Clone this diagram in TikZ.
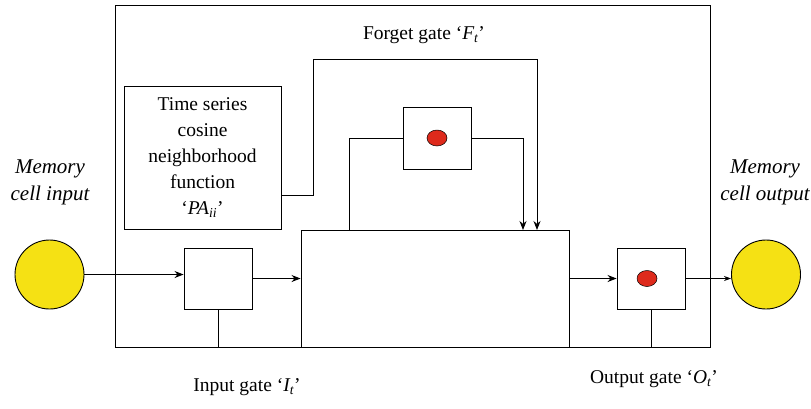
\documentclass[tikz,border=0pt]{standalone}
\usepackage{fontspec}
\setmainfont{Liberation Serif}
\usetikzlibrary{arrows.meta, shapes.geometric, positioning}

\definecolor{cellyellow}{RGB}{245,225,20}
\definecolor{dotred}{RGB}{222,42,28}

\begin{document}
\begin{tikzpicture}[
						x=1pt, y=-1pt,
						font=\fontsize{19.5}{26}\selectfont,
						>={Stealth[length=9pt, width=7pt]},
						line width=0.9pt,
						cell/.style = {draw, circle, fill=cellyellow, minimum size=69pt, inner sep=0pt},
						gate/.style = {draw, rectangle, minimum width=68pt, minimum height=61pt, inner sep=0pt},
						dot/.style = {draw, ellipse, fill=dotred, line width=0.5pt, minimum width=20pt, minimum height=16pt, inner sep=0pt},
						tag/.style = {align=center, inner sep=0pt},
						celltag/.style = {tag, font=\fontsize{21}{27}\selectfont\itshape}
					]
\useasboundingbox (0,0) rectangle (811,408);

% frame and blocks
\node[draw, minimum width=595pt, minimum height=342pt, inner sep=0pt] (frame) at (412.5,176) {};
\node[draw, minimum width=157pt, minimum height=143pt, inner sep=0pt, align=center] (pa) at (202.5,157.5) {Time series\\cosine\\neighborhood\\function\\`\textit{PA\textsubscript{ii}}'};
\node[draw, minimum width=268pt, minimum height=117pt, inner sep=0pt] (core) at (435,288.5) {};
\node[gate] (ig) at (218,278.5) {};
\node[gate, minimum height=62pt] (fg) at (437,138) {};
\node[gate] (og) at (651,278.5) {};
\node[dot] (fgdot) at (fg) {};
\node[dot] (ogdot) at (647,278.5) {};

\node[cell] (min) at (49.5,274.5) {};
\node[cell] (mout) at (766,274.5) {};

% labels
\node[celltag] (mintext) at (50,182) {Memory\\cell input};
\node[celltag] (mouttext) at (765,182) {Memory\\cell output};
\node[tag] (ftext) at (424,35) {Forget gate `\textit{F\textsubscript{t}}'};
\node[tag] (itext) at (247,387) {Input gate `\textit{I\textsubscript{t}}'};
\node[tag] (otext) at (654,379) {Output gate `\textit{O\textsubscript{t}}'};

\coordinate (loopin) at (349,230);
\coordinate (loopout) at (523,230);
\coordinate (fup) at (313,59);
\coordinate (fin) at (537,230);

\draw[->] (min.east) -- (min.east -| ig.west);
\draw[->] (ig.east) -- (ig.east -| core.west);
\draw (ig.south) -- (ig.south |- frame.south);
\draw[->] (og.east -| core.east) -- (og.west);
\draw (og.south) -- (og.south |- frame.south);
\draw[->, >={Stealth[length=7pt, width=5pt]}] (og.east) -- (og.east -| mout.west);

\draw (loopin) |- (fg.west);
\draw[->] (fg.east) -| (loopout);
\draw[->] ([yshift=-37.5pt]pa.east) -| (fup) -| (fin);
\end{tikzpicture}
\end{document}
